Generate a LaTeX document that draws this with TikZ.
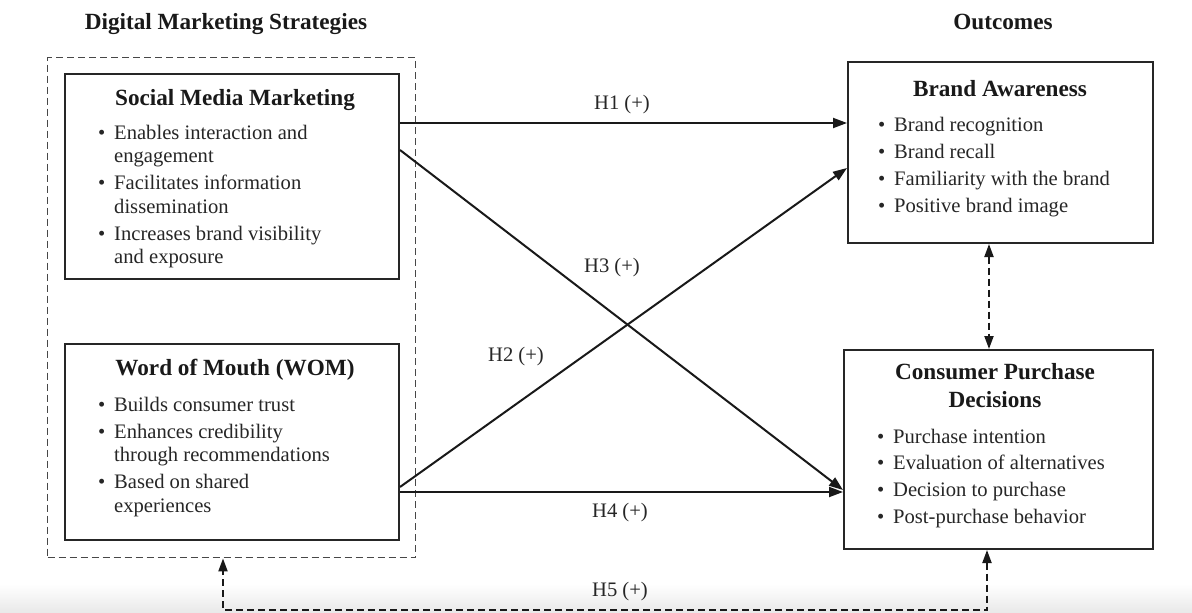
\documentclass[tikz,border=0pt]{standalone}
\usepackage{fontspec}
\setmainfont{Liberation Serif}
\usetikzlibrary{arrows.meta,calc}
\newcommand{\bodyfont}{\fontsize{20.6pt}{23.5pt}\selectfont}
\newcommand{\titlefont}{\fontsize{23.2pt}{28pt}\selectfont\bfseries}
\newcommand{\bul}{\textbullet}
\begin{document}
\begin{tikzpicture}[x=1pt,y=-1pt,
  box/.style={draw=black!85, line width=2pt, rectangle, inner sep=0pt, anchor=north west},
  groupbox/.style={draw=black!72, line width=1.4pt, dash pattern=on 7pt off 4pt, rectangle, inner sep=0pt, anchor=north west},
  arr/.style={draw=black!90, line width=2pt, -{Triangle[length=14pt,width=10pt]}},
  darr/.style={draw=black!90, line width=2pt, dash pattern=on 7pt off 4pt, {Triangle[length=13pt,width=9pt]}-{Triangle[length=13pt,width=9pt]}},
  head/.style={font=\titlefont, text=black!90, anchor=base, inner sep=0pt},
  ttl/.style={font=\titlefont, text=black!90, anchor=base, inner sep=0pt, align=center},
  lst/.style={font=\bodyfont, text=black!85, anchor=base west, inner sep=0pt},
  lbl/.style={font=\bodyfont, text=black!85, anchor=center, inner sep=1pt}]
\useasboundingbox (0,0) rectangle (1192,613);
\fill[white] (0,0) rectangle (1192,613);
\shade[top color=white, bottom color=black!9] (0,584) rectangle (1192,613);

% headers
\node[head] (dms) at (226,30) {Digital Marketing Strategies};
\node[head] (outc) at (1003,30) {Outcomes};

% boxes
\node[groupbox, minimum width=368pt, minimum height=500pt] (outer) at (47,57) {};
\node[box, minimum width=334pt, minimum height=205pt] (smm) at (64,73) {};
\node[box, minimum width=334pt, minimum height=196pt] (wom) at (64,343) {};
\node[box, minimum width=305pt, minimum height=181pt] (ba) at (847,61) {};
\node[box, minimum width=309pt, minimum height=199pt] (cpd) at (843,349) {};

% titles
\node[ttl] (smmt) at (235,105) {Social Media Marketing};
\node[ttl] (womt) at (235,375) {Word of Mouth (WOM)};
\node[ttl] (bat) at (1000,96) {Brand Awareness};
\node[ttl] (cpdt) at (995,407) {Consumer Purchase\\Decisions};

% lists
\node[lst] (smml) at (98,139) {\begin{tabular}[t]{@{}l@{\hspace{8.8pt}}l@{}}
\bul & Enables interaction and\\
     & engagement\\[3.5pt]
\bul & Facilitates information\\
     & dissemination\\[3.5pt]
\bul & Increases brand visibility\\
     & and exposure
\end{tabular}};
\node[lst] (woml) at (98,411) {\begin{tabular}[t]{@{}l@{\hspace{8.8pt}}l@{}}
\bul & Builds consumer trust\\[3.5pt]
\bul & Enhances credibility\\
     & through recommendations\\[3.5pt]
\bul & Based on shared\\
     & experiences
\end{tabular}};
\node[lst] (bal) at (878,131) {\begin{tabular}[t]{@{}l@{\hspace{8.8pt}}l@{}}
\bul & Brand recognition\\[3.5pt]
\bul & Brand recall\\[3.5pt]
\bul & Familiarity with the brand\\[3.5pt]
\bul & Positive brand image
\end{tabular}};
\node[lst] (cpdl) at (877,443) {\begin{tabular}[t]{@{}l@{\hspace{8.8pt}}l@{}}
\bul & Purchase intention\\[3.2pt]
\bul & Evaluation of alternatives\\[3.2pt]
\bul & Decision to purchase\\[3.2pt]
\bul & Post-purchase behavior
\end{tabular}};

% connectors
\coordinate (h1s) at ($(smm.north east)+(0,50)$);
\coordinate (h3s) at ($(smm.north east)+(0,77)$);
\coordinate (h3e) at ($(cpd.north west)+(0,141)$);
\coordinate (h2s) at ($(wom.north east)+(0,144)$);
\coordinate (h2e) at ($(ba.north west)+(0,107)$);
\coordinate (h4s) at ($(wom.north east)+(0,149)$);
\draw[arr] (h1s) -- (h1s -| ba.west);
\draw[arr] (h3s) -- (h3e);
\draw[arr] (h2s) -- (h2e);
\draw[arr] (h4s) -- (h4s -| cpd.west);

\coordinate (vx) at (989,0);
\draw[darr] (vx |- ba.south) -- (vx |- cpd.north);

\coordinate (rx) at (987,610);
\coordinate (lx) at (223,610);
\draw[darr] (rx |- cpd.south) -- (rx) -- (lx) -- (lx |- outer.south);

% labels
\node[lbl] (h1) at (622,105) {H1 (+)};
\node[lbl] (h3) at (612,268) {H3 (+)};
\node[lbl] (h2) at (516,357) {H2 (+)};
\node[lbl] (h4) at (620,513) {H4 (+)};
\node[lbl] (h5) at (620,592) {H5 (+)};
\end{tikzpicture}
\end{document}
